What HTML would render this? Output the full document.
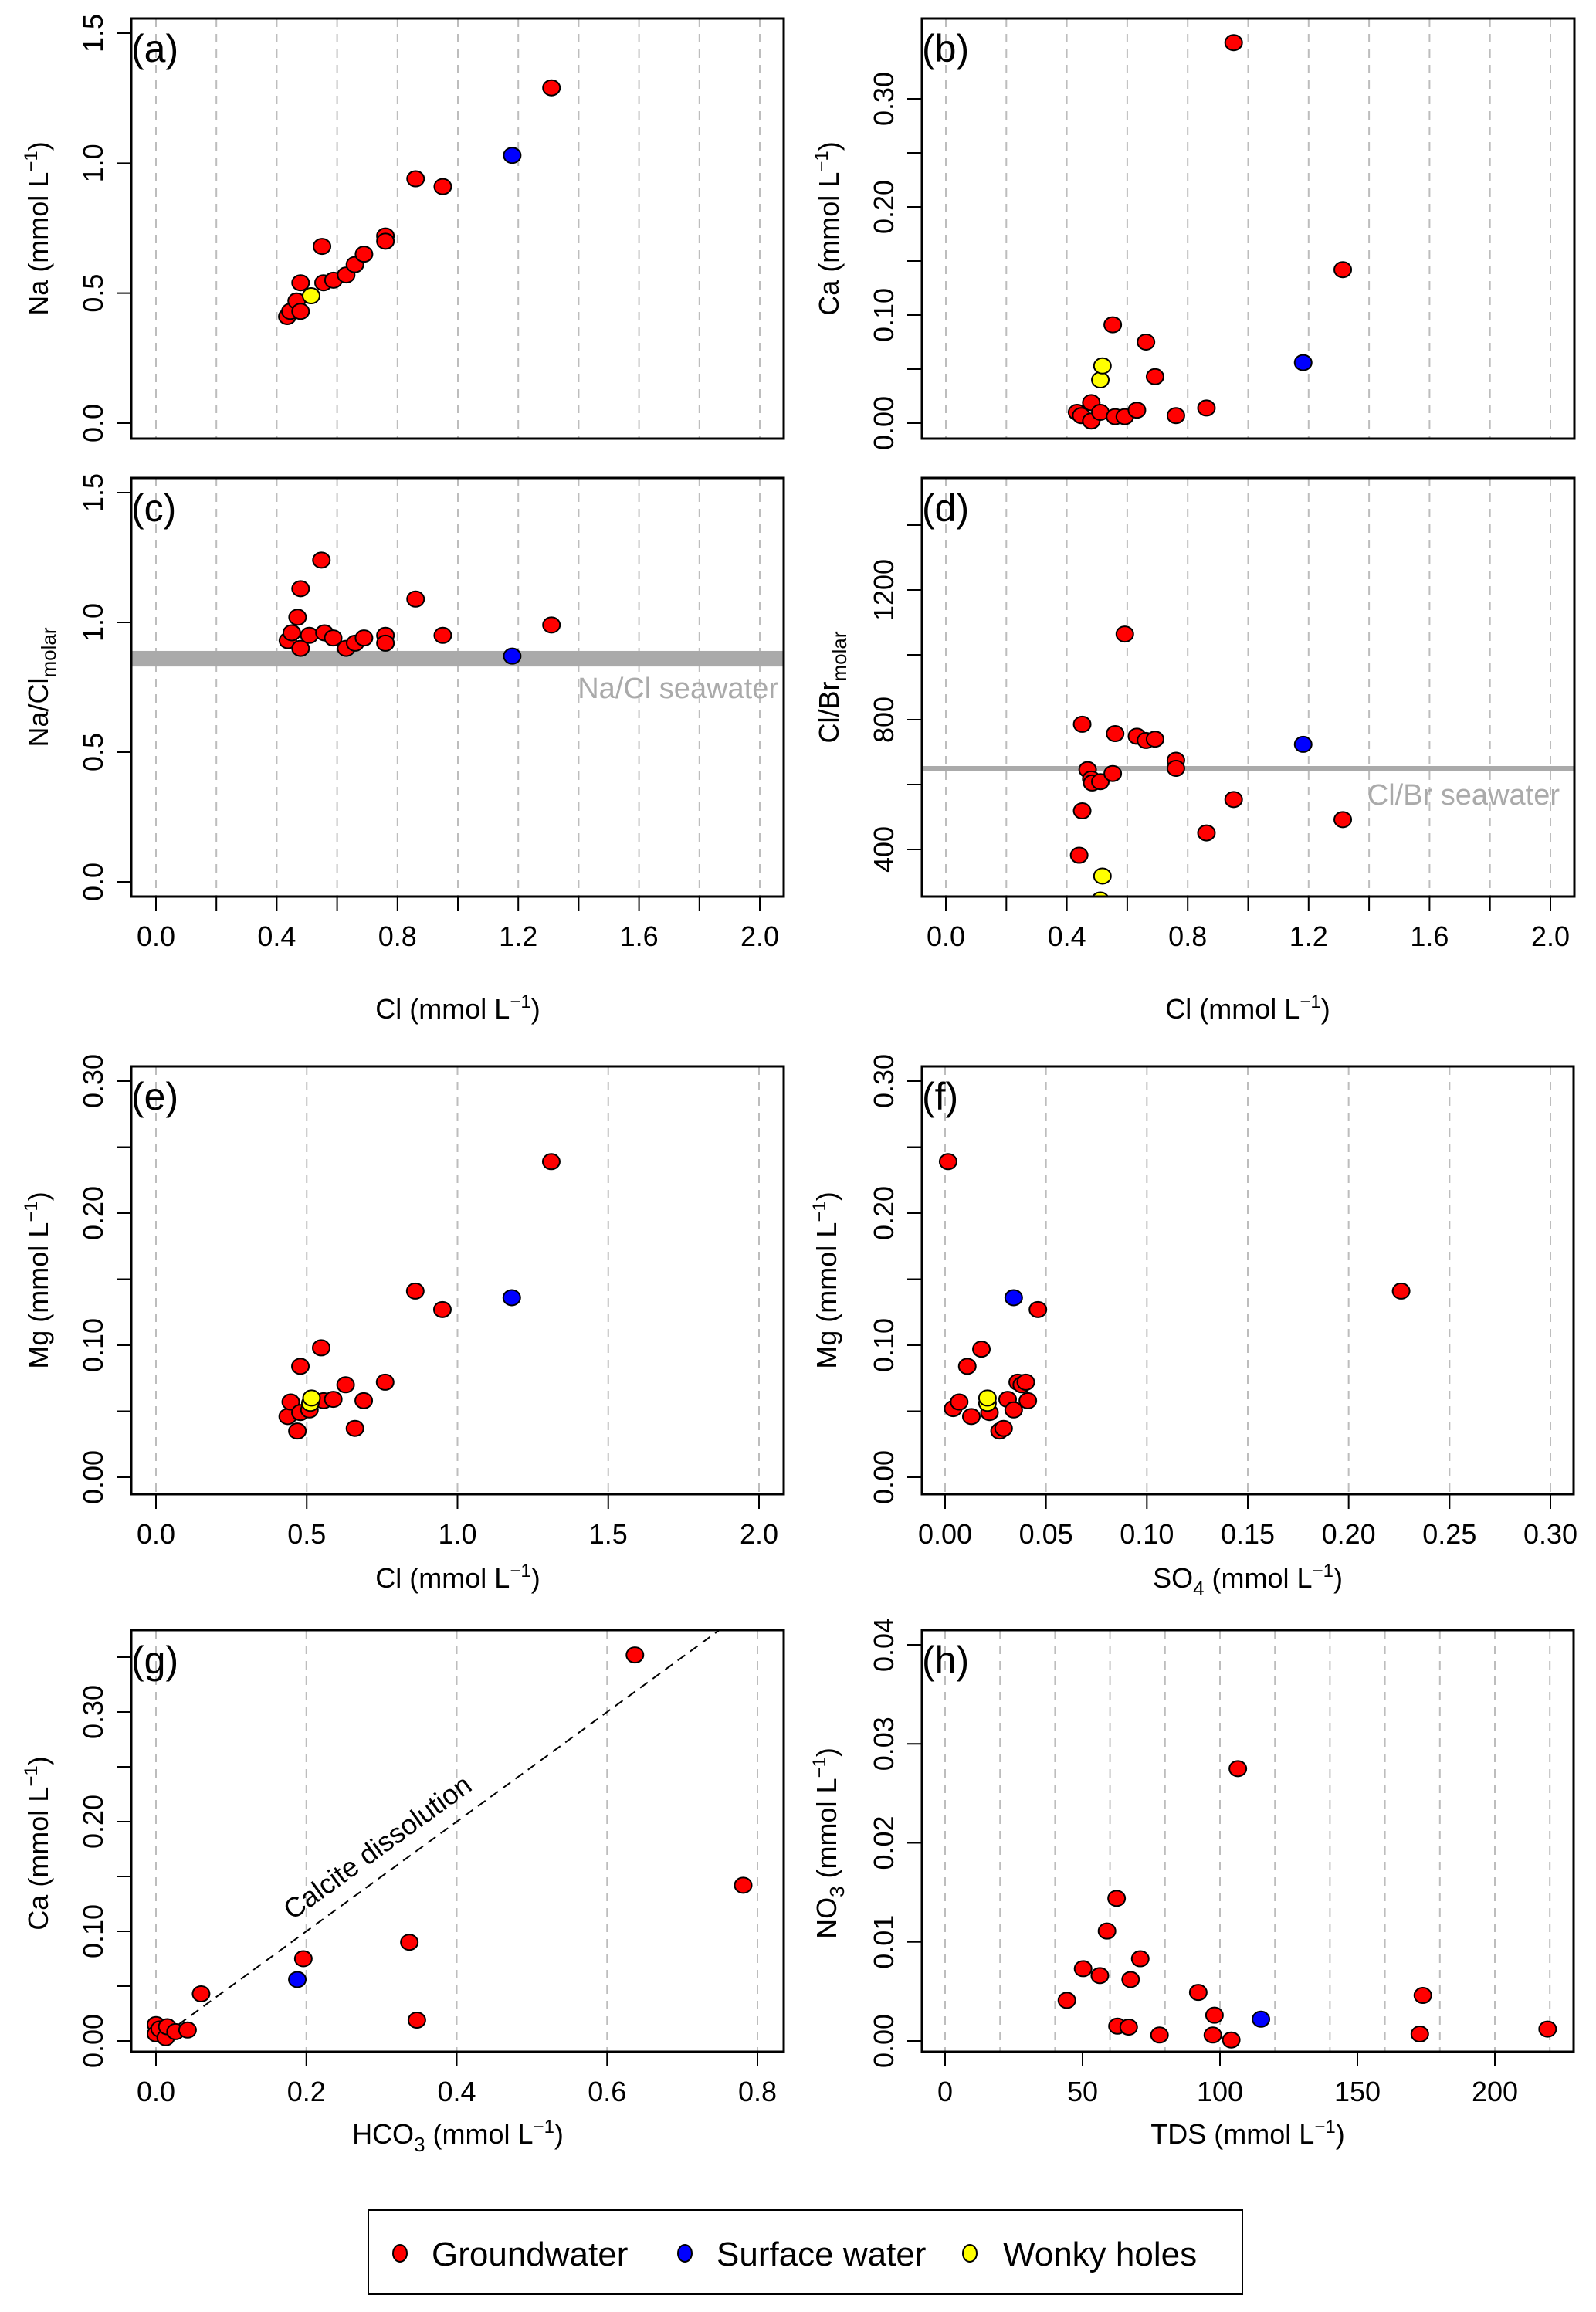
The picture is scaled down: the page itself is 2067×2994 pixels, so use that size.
<!DOCTYPE html>
<html><head><meta charset="utf-8">
<style>
html,body{margin:0;padding:0;background:#fff;}
svg{display:block;font-family:"Liberation Sans",Arial,sans-serif;}
</style></head>
<body>
<svg id="fig" width="2067" height="2994" viewBox="0 0 2067 2994" xmlns="http://www.w3.org/2000/svg">
<rect x="0" y="0" width="2067" height="2994" fill="#fff"/>
<g id="marks"></g>
<g font-size="36" fill="#000">
  <text transform="translate(62,296) rotate(-90)" text-anchor="middle">Na (mmol L<tspan font-size="24" dy="-14">−1</tspan><tspan dy="14">)</tspan></text>
  <text transform="translate(1086,296) rotate(-90)" text-anchor="middle">Ca (mmol L<tspan font-size="24" dy="-14">−1</tspan><tspan dy="14">)</tspan></text>
  <text transform="translate(62,890) rotate(-90)" text-anchor="middle">Na/Cl<tspan font-size="26" dy="10">molar</tspan></text>
  <text transform="translate(1086,890) rotate(-90)" text-anchor="middle">Cl/Br<tspan font-size="26" dy="10">molar</tspan></text>
  <text transform="translate(62,1658) rotate(-90)" text-anchor="middle">Mg (mmol L<tspan font-size="24" dy="-14">−1</tspan><tspan dy="14">)</tspan></text>
  <text transform="translate(1083,1658) rotate(-90)" text-anchor="middle">Mg (mmol L<tspan font-size="24" dy="-14">−1</tspan><tspan dy="14">)</tspan></text>
  <text transform="translate(62,2387) rotate(-90)" text-anchor="middle">Ca (mmol L<tspan font-size="24" dy="-14">−1</tspan><tspan dy="14">)</tspan></text>
  <text transform="translate(1083,2387) rotate(-90)" text-anchor="middle">NO<tspan font-size="26" dy="10">3</tspan><tspan dy="-10"> (mmol L</tspan><tspan font-size="24" dy="-14">−1</tspan><tspan dy="14">)</tspan></text>

  <text x="593" y="1319" text-anchor="middle">Cl (mmol L<tspan font-size="24" dy="-14">−1</tspan><tspan dy="14">)</tspan></text>
  <text x="1616" y="1319" text-anchor="middle">Cl (mmol L<tspan font-size="24" dy="-14">−1</tspan><tspan dy="14">)</tspan></text>
  <text x="593" y="2056" text-anchor="middle">Cl (mmol L<tspan font-size="24" dy="-14">−1</tspan><tspan dy="14">)</tspan></text>
  <text x="1616" y="2056" text-anchor="middle">SO<tspan font-size="26" dy="10">4</tspan><tspan dy="-10"> (mmol L</tspan><tspan font-size="24" dy="-14">−1</tspan><tspan dy="14">)</tspan></text>
  <text x="593" y="2776" text-anchor="middle">HCO<tspan font-size="26" dy="10">3</tspan><tspan dy="-10"> (mmol L</tspan><tspan font-size="24" dy="-14">−1</tspan><tspan dy="14">)</tspan></text>
  <text x="1616" y="2776" text-anchor="middle">TDS (mmol L<tspan font-size="24" dy="-14">−1</tspan><tspan dy="14">)</tspan></text>

  <g font-size="50">
    <text x="170" y="80">(a)</text>
    <text x="1194" y="80">(b)</text>
    <text x="170" y="675">(c)</text>
    <text x="1194" y="675">(d)</text>
    <text x="170" y="1437">(e)</text>
    <text x="1194" y="1437">(f)</text>
    <text x="170" y="2167">(g)</text>
    <text x="1194" y="2167">(h)</text>
  </g>
  <text x="1008" y="904" text-anchor="end" font-size="38" fill="#aaaaaa">Na/Cl seawater</text>
  <text x="2020" y="1042" text-anchor="end" font-size="38" fill="#aaaaaa">Cl/Br seawater</text>
  <text transform="translate(496,2402) rotate(-36)" text-anchor="middle" font-size="36">Calcite dissolution</text>

  <g>
    <rect x="477" y="2862" width="1132" height="109" fill="none" stroke="#000" stroke-width="2"/>
    <ellipse cx="518" cy="2918" rx="9" ry="11" fill="#ff0000" stroke="#000" stroke-width="2"/>
    <text x="559" y="2934" font-size="44">Groundwater</text>
    <ellipse cx="887" cy="2918" rx="9" ry="11" fill="#0000ff" stroke="#000" stroke-width="2"/>
    <text x="928" y="2934" font-size="44">Surface water</text>
    <ellipse cx="1256" cy="2918" rx="9" ry="11" fill="#ffff00" stroke="#000" stroke-width="2"/>
    <text x="1299" y="2934" font-size="44">Wonky holes</text>
  </g>
</g>
</svg>
<script>
// ---- Data ----
const aGwX = [0.435,0.445,0.466,0.479,0.479,0.55,0.555,0.588,0.63,0.659,0.689,0.76,0.76,0.86,0.95,1.31];
const aGwY = [0.41,0.43,0.47,0.54,0.43,0.68,0.54,0.55,0.57,0.61,0.65,0.72,0.70,0.94,0.91,1.29];
const aSwX = [1.18]; const aSwY = [1.03];
const aWhX = [0.514]; const aWhY = [0.49];
const bGwX = [0.434,0.448,0.481,0.481,0.511,0.552,0.56,0.592,0.632,0.662,0.692,0.761,0.862,0.952,1.313];
const bGwY = [0.010,0.007,0.019,0.002,0.010,0.091,0.006,0.006,0.012,0.075,0.043,0.007,0.014,0.352,0.142];
const bSwX = [1.182]; const bSwY = [0.056];
const bWhX = [0.511,0.518]; const bWhY = [0.040,0.053];
const cGwX = [0.437,0.45,0.469,0.479,0.479,0.508,0.548,0.558,0.587,0.63,0.66,0.689,0.76,0.76,0.86,0.95,1.31];
const cGwY = [0.93,0.96,1.02,1.13,0.90,0.95,1.24,0.96,0.94,0.90,0.92,0.94,0.95,0.92,1.09,0.95,0.99];
const cSwX = [1.18]; const cSwY = [0.87];
const naClSeawater = [0.83,0.89];
const dGwX = [0.441,0.451,0.451,0.469,0.481,0.484,0.511,0.552,0.56,0.592,0.632,0.662,0.692,0.761,0.761,0.862,0.952,1.313];
const dGwY = [382,786,519,646,617,605,609,634,757,1064,749,736,740,675,650,451,554,492];
const dSwX = [1.182]; const dSwY = [724];
const dWhX = [0.518,0.511]; const dWhY = [318,244];
const clBrSeawater = [650];
const eGwX = [0.437,0.447,0.469,0.479,0.479,0.509,0.548,0.556,0.588,0.629,0.66,0.689,0.76,0.86,0.95,1.311];
const eGwY = [0.046,0.057,0.035,0.084,0.049,0.051,0.098,0.058,0.059,0.070,0.037,0.058,0.072,0.141,0.127,0.239];
const eSwX = [1.18]; const eSwY = [0.136];
const eWhX = [0.512,0.516]; const eWhY = [0.056,0.060];
const fGwX = [0.0015,0.004,0.007,0.011,0.013,0.018,0.022,0.027,0.029,0.031,0.034,0.036,0.038,0.040,0.041,0.046,0.226];
const fGwY = [0.239,0.052,0.057,0.084,0.046,0.097,0.049,0.035,0.037,0.059,0.051,0.072,0.070,0.072,0.058,0.127,0.141];
const fSwX = [0.034]; const fSwY = [0.136];
const fWhX = [0.021,0.021]; const fWhY = [0.056,0.060];
const gGwX = [0.0,0.0,0.005,0.013,0.015,0.026,0.042,0.060,0.196,0.337,0.347,0.637,0.781];
const gGwY = [0.015,0.0065,0.011,0.003,0.013,0.0085,0.010,0.043,0.075,0.090,0.019,0.352,0.142];
const gSwX = [0.188]; const gSwY = [0.056];
const calciteLine = [0.03,0.8];
const calciteSlope = 0.5;
const hGwX = [44.3,50.2,56.3,58.9,62.4,62.7,66.8,67.5,71.0,78.0,92.1,97.4,98.0,104.1,106.5,172.7,173.8,219.2];
const hGwY = [0.0041,0.0073,0.0066,0.0111,0.0144,0.0015,0.0014,0.0062,0.0083,0.0006,0.0049,0.0006,0.0026,0.0001,0.0275,0.0007,0.0046,0.0012];
const hSwX = [114.9]; const hSwY = [0.0022];

const clTicks = [0,0.2,0.4,0.6,0.8,1.0,1.2,1.4,1.6,1.8,2.0];
const clTickLabels = ['0.0','','0.4','','0.8','','1.2','','1.6','','2.0'];
const naTicks = [0,0.5,1.0,1.5]; const naTickLabels = ['0.0','0.5','1.0','1.5'];
const caTicks = [0,0.05,0.10,0.15,0.20,0.25,0.30]; const caTickLabels = ['0.00','','0.10','','0.20','','0.30'];
const brTicks = [400,600,800,1000,1200,1400]; const brTickLabels = ['400','','800','','1200',''];
const mgTicks = [0,0.05,0.10,0.15,0.20,0.25,0.30]; const mgTickLabels = ['0.00','','0.10','','0.20','','0.30'];
const clTicksE = [0,0.5,1.0,1.5,2.0]; const clTickLabelsE = ['0.0','0.5','1.0','1.5','2.0'];
const so4Ticks = [0,0.05,0.10,0.15,0.20,0.25,0.30]; const so4TickLabels = ['0.00','0.05','0.10','0.15','0.20','0.25','0.30'];
const hco3Ticks = [0,0.2,0.4,0.6,0.8]; const hco3TickLabels = ['0.0','0.2','0.4','0.6','0.8'];
const caTicksG = [0,0.05,0.10,0.15,0.20,0.25,0.30,0.35]; const caTickLabelsG = ['0.00','','0.10','','0.20','','0.30',''];
const tdsTicks = [0,50,100,150,200]; const tdsTickLabels = ['0','50','100','150','200'];
const tdsGrid = [0,20,40,60,80,100,120,140,160,180,200,220];
const no3Ticks = [0,0.01,0.02,0.03,0.04]; const no3TickLabels = ['0.00','0.01','0.02','0.03','0.04'];

const NS = 'http://www.w3.org/2000/svg';
const root = document.getElementById('marks');
function mk(tag, attrs, parent){
  const e = document.createElementNS(NS, tag);
  for (const k in attrs) e.setAttribute(k, attrs[k]);
  (parent||root).appendChild(e);
  return e;
}
function lin(v0,p0,v1,p1){ return v => p0 + (v - v0) * (p1 - p0) / (v1 - v0); }

function panel(c){
  const g = mk('g', {});
  
  
  const clip = mk('clipPath', {id: 'clip-' + c.id}, g);
  mk('rect', {x: c.L, y: c.T, width: c.R - c.L, height: c.B - c.T}, clip);
  const X = lin(...c.xs), Y = lin(...c.ys);
  c.grid.forEach(v => {
    const l = mk('line', {x1: X(v), x2: X(v), y1: c.T, y2: c.B, stroke: '#bdbdbd', 'stroke-width': 2, 'stroke-dasharray': '11,9'}, g);
    
    
  });
  if (c.extra) c.extra(g, X, Y);
  c.yticks.forEach((v, i) => {
    const t = mk('line', {x1: c.L - 19, x2: c.L, y1: Y(v), y2: Y(v), stroke: '#000', 'stroke-width': 2}, g);
    
    
    if (c.ylabels[i]) {
      const tx = mk('text', {transform: 'translate(' + (c.L - 37) + ',' + Y(v) + ') rotate(-90)', 'text-anchor': 'middle', 'font-size': 36}, g);
      
      
      tx.textContent = c.ylabels[i];
    }
  });
  if (c.xticks) c.xticks.forEach((v, i) => {
    const t = mk('line', {x1: X(v), x2: X(v), y1: c.B, y2: c.B + 19, stroke: '#000', 'stroke-width': 2}, g);
    
    
    if (c.xlabels[i]) {
      const tx = mk('text', {x: X(v), y: c.B + 64, 'text-anchor': 'middle', 'font-size': 36}, g);
      
      
      tx.textContent = c.xlabels[i];
    }
  });
  const pg = mk('g', {'clip-path': 'url(#clip-' + c.id + ')'}, g);
  c.series.forEach(s => {
    s.x.forEach((xv, i) => {
      const p = mk('ellipse', {cx: X(xv), cy: Y(s.y[i]), rx: 11, ry: 10, fill: s.color, stroke: '#000', 'stroke-width': 2}, pg);
      
      
    });
  });
  const box = mk('rect', {x: c.L, y: c.T, width: c.R - c.L, height: c.B - c.T, fill: 'none', stroke: '#000', 'stroke-width': 3}, g);
  
  
}
const RED='#ff0000', BLUE='#0000ff', YEL='#ffff00';
function S(x,y,name,color){ return {x:x,y:y,name:name,color:color}; }

panel({id:'a', L:170,R:1015,T:24,B:568, xs:[0,202,2,984], ys:[0,548,1.5,43], grid:clTicks,
  yticks:naTicks, ylabels:naTickLabels,
  series:[S(aGwX,aGwY,'groundwater',RED),S(aSwX,aSwY,'surface-water',BLUE),S(aWhX,aWhY,'wonky-holes',YEL)]});
panel({id:'b', L:1194,R:2039,T:24,B:568, xs:[0,1225,2,2008], ys:[0,548,0.30,128], grid:clTicks,
  yticks:caTicks, ylabels:caTickLabels,
  series:[S(bGwX,bGwY,'groundwater',RED),S(bSwX,bSwY,'surface-water',BLUE),S(bWhX,bWhY,'wonky-holes',YEL)]});
panel({id:'c', L:170,R:1015,T:619,B:1161, xs:[0,202,2,984], ys:[0,1142,1.5,638], grid:clTicks,
  yticks:naTicks, ylabels:naTickLabels, xticks:clTicks, xlabels:clTickLabels,
  extra:(g,X,Y)=>{ const r=mk('rect',{x:170,y:Y(naClSeawater[1]),width:845,height:Y(naClSeawater[0])-Y(naClSeawater[1]),fill:'#aaaaaa'},g);
      },
  series:[S(cGwX,cGwY,'groundwater',RED),S(cSwX,cSwY,'surface-water',BLUE)]});
panel({id:'d', L:1194,R:2039,T:619,B:1161, xs:[0,1225,2,2008], ys:[400,1100,1200,764], grid:clTicks,
  yticks:brTicks, ylabels:brTickLabels, xticks:clTicks, xlabels:clTickLabels,
  extra:(g,X,Y)=>{ const l=mk('line',{x1:1194,x2:2039,y1:Y(clBrSeawater[0]),y2:Y(clBrSeawater[0]),stroke:'#aaaaaa','stroke-width':6},g);
      },
  series:[S(dGwX,dGwY,'groundwater',RED),S(dSwX,dSwY,'surface-water',BLUE),S(dWhX,dWhY,'wonky-holes',YEL)]});
panel({id:'e', L:170,R:1015,T:1381,B:1935, xs:[0,202,2,983], ys:[0,1913,0.30,1400], grid:clTicksE,
  yticks:mgTicks, ylabels:mgTickLabels, xticks:clTicksE, xlabels:clTickLabelsE,
  series:[S(eGwX,eGwY,'groundwater',RED),S(eSwX,eSwY,'surface-water',BLUE),S(eWhX,eWhY,'wonky-holes',YEL)]});
panel({id:'f', L:1194,R:2038,T:1381,B:1935, xs:[0,1224,0.30,2008], ys:[0,1913,0.30,1400], grid:so4Ticks,
  yticks:mgTicks, ylabels:mgTickLabels, xticks:so4Ticks, xlabels:so4TickLabels,
  series:[S(fGwX,fGwY,'groundwater',RED),S(fSwX,fSwY,'surface-water',BLUE),S(fWhX,fWhY,'wonky-holes',YEL)]});
panel({id:'g', L:170,R:1015,T:2111,B:2657, xs:[0,202,0.8,981], ys:[0,2643,0.30,2217], grid:hco3Ticks,
  yticks:caTicksG, ylabels:caTickLabelsG, xticks:hco3Ticks, xlabels:hco3TickLabels,
  extra:(g,X,Y)=>{ const l=mk('line',{x1:X(calciteLine[0]),y1:Y(calciteLine[0]*calciteSlope),x2:X(calciteLine[1]),y2:Y(calciteLine[1]*calciteSlope),stroke:'#000','stroke-width':2,'stroke-dasharray':'12,8','clip-path':'url(#clip-g)'},g);
      },
  series:[S(gGwX,gGwY,'groundwater',RED),S(gSwX,gSwY,'surface-water',BLUE)]});
panel({id:'h', L:1194,R:2038,T:2111,B:2657, xs:[0,1224,200,1936], ys:[0,2643,0.04,2130], grid:tdsGrid,
  yticks:no3Ticks, ylabels:no3TickLabels, xticks:tdsTicks, xlabels:tdsTickLabels,
  series:[S(hGwX,hGwY,'groundwater',RED),S(hSwX,hSwY,'surface-water',BLUE)]});
</script>
</body></html>
